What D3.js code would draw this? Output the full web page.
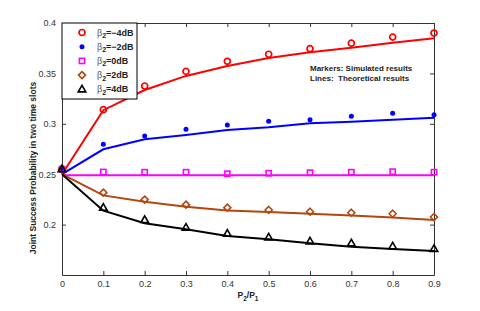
<!DOCTYPE html>
<html>
<head>
<meta charset="utf-8">
<script src="https://cdn.jsdelivr.net/npm/d3@7"></script>
<style>
  body { margin: 0; background: #fff; }
  text { font-family: "Liberation Sans", Arial, sans-serif; }
</style>
</head>
<body>
<svg id="chart" width="480" height="311" viewBox="0 0 480 311"></svg>
<script>
// P2/P1 values
const ratios = [0, 0.1, 0.2, 0.3, 0.4, 0.5, 0.6, 0.7, 0.8, 0.9]
const xTicks = [0, 0.1, 0.2, 0.3, 0.4, 0.5, 0.6, 0.7, 0.8, 0.9]
const yTicks = [0.2, 0.25, 0.3, 0.35, 0.4]

// theoretical (lines)
const theoryM4 = [0.25, 0.3135, 0.3335, 0.3475, 0.3573, 0.3653, 0.371, 0.3755, 0.3805, 0.3848]
const theoryM2 = [0.25, 0.2747, 0.2846, 0.289, 0.2939, 0.2965, 0.3005, 0.302, 0.304, 0.306]
const theory0 = [0.249, 0.249, 0.249, 0.249, 0.249, 0.249, 0.249, 0.249, 0.249, 0.249]
const theoryP2 = [0.25, 0.229, 0.2227, 0.2178, 0.214, 0.2125, 0.2108, 0.209, 0.207, 0.2046]
const theoryP4 = [0.25, 0.2138, 0.2013, 0.1953, 0.1887, 0.1854, 0.1814, 0.178, 0.1758, 0.1738]

// simulated (markers)
const simM4 = [0.255, 0.314, 0.3375, 0.352, 0.362, 0.369, 0.3745, 0.38, 0.386, 0.39]
const simM2 = [0.255, 0.2797, 0.288, 0.2945, 0.2988, 0.3025, 0.304, 0.3075, 0.3104, 0.309]
const sim0 = [0.255, 0.2522, 0.252, 0.252, 0.2505, 0.251, 0.2515, 0.252, 0.2525, 0.252]
const simP2 = [0.255, 0.2317, 0.2248, 0.2198, 0.2168, 0.2145, 0.2128, 0.2118, 0.2108, 0.2075]
const simP4 = [0.255, 0.2168, 0.2046, 0.197, 0.191, 0.1874, 0.1834, 0.1815, 0.1785, 0.176]

const labels = ["=\u22124dB", "=\u22122dB", "=0dB", "=2dB", "=4dB"]
const colors = ["#ff0000", "#0000ff", "#ff00ff", "#b5460f", "#000000"]
const markers = ["circle", "dot", "square", "diamond", "triangle"]

const series = [
    {theory: theoryM4, sim: simM4},
    {theory: theoryM2, sim: simM2},
    {theory: theory0, sim: sim0},
    {theory: theoryP2, sim: simP2},
    {theory: theoryP4, sim: simP4}
]

let svg = d3.select("#chart")
let plotLeft = 62, plotRight = 434, plotTop = 23, plotBottom = 275

let x = d3.scaleLinear().domain([0, 0.9]).range([plotLeft, plotRight])
let y = d3.scaleLinear().domain([0.15, 0.4]).range([plotBottom, plotTop])

// axes with inward ticks, MATLAB style
const tickLen = 4
const axisStyle = g => {
    g.select(".domain").attr("stroke", "#333")
    g.selectAll(".tick line").attr("stroke", "#333")
    g.selectAll(".tick text").attr("fill", "#333").attr("font-size", 9)
}
svg.append("g").attr("transform", `translate(0,${plotBottom})`)
    .call(d3.axisBottom(x).tickValues(xTicks).tickFormat(d3.format("")).tickSize(-tickLen).tickPadding(6).tickSizeOuter(0))
    .call(axisStyle)
svg.append("g").attr("transform", `translate(0,${plotTop})`)
    .call(d3.axisTop(x).tickValues(xTicks).tickFormat("").tickSize(-tickLen).tickSizeOuter(0))
    .call(axisStyle)
svg.append("g").attr("transform", `translate(${plotLeft},0)`)
    .call(d3.axisLeft(y).tickValues(yTicks).tickFormat(d3.format("")).tickSize(-tickLen).tickPadding(6).tickSizeOuter(0))
    .call(axisStyle)
svg.append("g").attr("transform", `translate(${plotRight},0)`)
    .call(d3.axisRight(y).tickValues(yTicks).tickFormat("").tickSize(-tickLen).tickSizeOuter(0))
    .call(axisStyle)

// lines
let line = d3.line().x((d, i) => x(ratios[i])).y(d => y(d))
series.forEach((s, k) => {
    svg.append("path")
        .attr("d", line(s.theory))
        .attr("fill", "none")
        .attr("stroke", colors[k])
        .attr("stroke-width", 2)
})

function drawMarker(g, type, color) {
    if (type === "circle") {
        g.append("circle").attr("r", 3).attr("fill", "none").attr("stroke", color).attr("stroke-width", 1.7)
    } else if (type === "dot") {
        g.append("circle").attr("r", 2.5).attr("fill", color)
    } else if (type === "square") {
        g.append("rect").attr("x", -2.6).attr("y", -2.6).attr("width", 5.2).attr("height", 5.2)
            .attr("fill", "none").attr("stroke", color).attr("stroke-width", 1.6)
    } else if (type === "diamond") {
        g.append("path").attr("d", "M0,-3.5L3.5,0L0,3.5L-3.5,0Z")
            .attr("fill", "none").attr("stroke", color).attr("stroke-width", 1.6)
    } else {
        g.append("path").attr("d", "M0,-4L3.8,2.6L-3.8,2.6Z")
            .attr("fill", "none").attr("stroke", color).attr("stroke-width", 1.6)
    }
}

// markers
series.forEach((s, k) => {
    s.sim.forEach((v, i) => {
        let g = svg.append("g").attr("transform", `translate(${x(ratios[i])},${y(v)})`)
        drawMarker(g, markers[k], colors[k])
    })
})

// legend
let legend = svg.append("g")
legend.append("rect")
    .attr("x", plotLeft).attr("y", plotTop).attr("width", 75).attr("height", 76)
    .attr("fill", "#fff").attr("stroke", "#000").attr("stroke-width", 1)
labels.forEach((lab, k) => {
    let ly = plotTop + 9.5 + k * 14.2
    let g = legend.append("g").attr("transform", `translate(82,${ly})`)
    drawMarker(g, markers[k], colors[k])
    let t = legend.append("text").attr("x", 97).attr("y", ly + 3)
        .attr("font-size", 9).attr("font-weight", "bold").attr("fill", "#222")
    t.append("tspan").attr("font-weight", "normal").attr("fill", "#555").text("\u03b2")
    t.append("tspan").attr("font-size", 7).attr("dy", 2.5).text("2")
    t.append("tspan").attr("dy", -2.5).text(lab)
})

// annotation
svg.append("text").attr("x", 310).attr("y", 71)
    .attr("font-size", 8).attr("font-weight", "bold").attr("fill", "#222")
    .text("Markers: Simulated results")
svg.append("text").attr("x", 310).attr("y", 80.5)
    .attr("font-size", 8).attr("font-weight", "bold").attr("fill", "#222")
    .attr("xml:space", "preserve")
    .text("Lines:  Theoretical results")

// axis labels
let xl = svg.append("text").attr("x", 248).attr("y", 298)
    .attr("text-anchor", "middle").attr("font-size", 8.5).attr("font-weight", "bold").attr("fill", "#222")
xl.append("tspan").text("P")
xl.append("tspan").attr("font-size", 6.5).attr("dy", 2.5).text("2")
xl.append("tspan").attr("dy", -2.5).text("/P")
xl.append("tspan").attr("font-size", 6.5).attr("dy", 2.5).text("1")

svg.append("text")
    .attr("transform", "translate(36,168) rotate(-90)")
    .attr("text-anchor", "middle").attr("font-size", 8.5).attr("font-weight", "bold").attr("fill", "#222")
    .text("Joint Success Probability in two time slots")
</script>
</body>
</html>
